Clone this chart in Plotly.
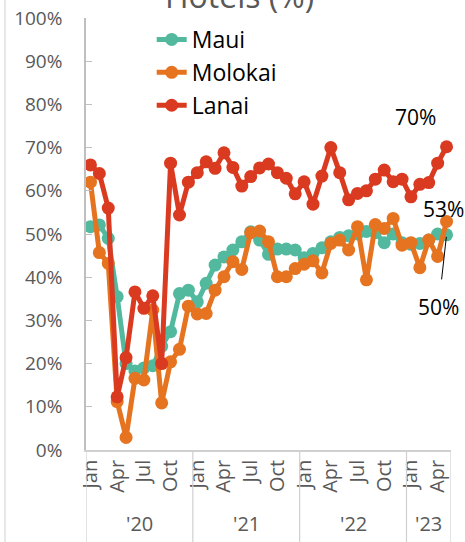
import pandas as pd
import plotly.graph_objects as go

# ---- data ----
months = pd.period_range("2020-01", "2023-05", freq="M")
month_names = [m.strftime("%b") for m in months]
years = ["'20", "'21", "'22", "'23"]
shown_months = ["Jan", "Apr", "Jul", "Oct"]

maui = [51.7, 52.1, 49.0, 35.5, 20.0, 18.3, 19.0, 19.5, 24.0, 27.4, 36.2, 37.0,
        34.3, 38.6, 42.8, 44.7, 46.3, 48.2, 50.5, 48.6, 45.3, 46.5, 46.5, 46.3,
        44.5, 45.5, 46.8, 48.2, 49.2, 49.6, 50.0, 50.6, 50.3, 48.0, 50.0, 48.0,
        47.6, 47.8, 48.6, 50.0, 49.8]
molokai = [62.0, 45.7, 43.2, 11.2, 2.9, 16.6, 16.2, 32.4, 10.9, 20.4, 23.3, 33.3,
           31.5, 31.6, 37.0, 40.1, 43.6, 41.8, 50.3, 50.7, 48.2, 40.1, 40.1, 42.0,
           43.0, 43.8, 41.0, 47.8, 48.6, 46.3, 51.7, 39.4, 52.2, 51.3, 53.6, 47.4,
           48.0, 42.2, 48.6, 44.8, 52.9]
lanai = [66.0, 64.0, 56.0, 12.3, 21.4, 36.6, 32.8, 35.7, 20.0, 66.4, 54.4, 62.0,
         64.2, 66.7, 65.2, 68.8, 65.4, 61.1, 63.3, 65.3, 66.2, 64.2, 62.9, 59.3,
         62.1, 56.9, 63.4, 70.0, 64.2, 57.9, 59.4, 60.0, 62.7, 64.8, 62.1, 62.7,
         58.6, 61.5, 61.9, 66.4, 70.2]

series = [("Maui", maui, "#52B99E"), ("Molokai", molokai, "#E5731F"), ("Lanai", lanai, "#D93A20")]

FONT = "Open Sans"
GRAY = "#595959"
LINE = "#D0D0D0"

x = list(range(len(months)))

fig = go.Figure()
for name, vals, col in series:
    fig.add_trace(go.Scatter(
        x=x, y=vals, name=name, mode="lines+markers",
        line=dict(color=col, width=5),
        marker=dict(color=col, size=13),
        cliponaxis=False,
    ))

tickvals = [i for i, m in enumerate(month_names) if m in shown_months]
ticktext = [month_names[i] for i in tickvals]

# year separators & labels
year_starts = [i for i, m in enumerate(months) if m.month == 1]
bounds = year_starts + [len(months)]
shapes = []
annotations = []
for k, yl in enumerate(years):
    a, b = bounds[k], bounds[k + 1]
    shapes.append(dict(type="line", xref="x", yref="paper", x0=b - 0.5, x1=b - 0.5,
                       y0=0, y1=-0.215, line=dict(color=LINE, width=1.2)))
    annotations.append(dict(xref="x", yref="paper", x=(a + b - 1) / 2, y=-0.205,
                            text=yl, showarrow=False, yanchor="bottom",
                            font=dict(family=FONT, size=20, color=GRAY)))
shapes.append(dict(type="line", xref="x", yref="paper", x0=-0.5, x1=-0.5,
                   y0=0, y1=-0.215, line=dict(color=LINE, width=1.2)))
# left chart border
shapes.append(dict(type="line", xref="paper", yref="paper", x0=-0.222, x1=-0.222,
                   y0=-0.215, y1=1.05, line=dict(color=LINE, width=1)))

# data labels
last = len(months) - 1
annotations += [
    dict(x=last, y=lanai[-1], text=f"{round(lanai[-1])}%", showarrow=False,
         xshift=-31, yshift=30, font=dict(family=FONT, size=21, color="black")),
    dict(x=last, y=molokai[-1], text=f"{round(molokai[-1])}%", showarrow=False,
         xshift=-3, yshift=12, font=dict(family=FONT, size=21, color="black")),
    dict(x=last, y=maui[-1], text=f"{round(maui[-1])}%", showarrow=True,
         ax=-8, ay=72, arrowhead=0, arrowwidth=1, arrowcolor="black",
         standoff=2, startstandoff=12,
         font=dict(family=FONT, size=21, color="black")),
]
# title (cut at top)
annotations.append(dict(xref="paper", yref="paper", x=0.42, y=1.0, yanchor="bottom",
                        text="Hotels (%)", showarrow=False, borderpad=0,
                        font=dict(family=FONT, size=32, color=GRAY)))

fig.update_layout(
    width=465, height=542,
    margin=dict(l=86, r=14, t=18, b=92, autoexpand=False),
    paper_bgcolor="white", plot_bgcolor="white",
    font=dict(family=FONT, color=GRAY),
    showlegend=True,
    legend=dict(x=0.18, y=1.0, xanchor="left", yanchor="top",
                font=dict(family=FONT, size=23, color="black"),
                bgcolor="rgba(0,0,0,0)", tracegroupgap=0),
    xaxis=dict(range=[-0.5, len(months) - 0.5], tickmode="array",
               tickvals=tickvals, ticktext=ticktext, tickangle=-90,
               tickfont=dict(family=FONT, size=20, color=GRAY),
               showgrid=False, zeroline=False, showline=True, automargin=False,
               linecolor=LINE, linewidth=1.5, ticks=""),
    yaxis=dict(range=[0, 100], dtick=10, ticksuffix="%",
               tickfont=dict(family=FONT, size=19, color=GRAY),
               showgrid=False, zeroline=False, showline=True, automargin=False,
               linecolor="#BFBFBF", linewidth=1.5,
               ticks="inside", ticklen=6, tickcolor="#BFBFBF",
               ticklabelstandoff=18),
    shapes=shapes,
    annotations=annotations,
)

fig.write_html(
    "out.html",
    config={"displayModeBar": False},
    post_script="document.body.style.margin='0px';document.body.style.overflow='hidden';",
)
